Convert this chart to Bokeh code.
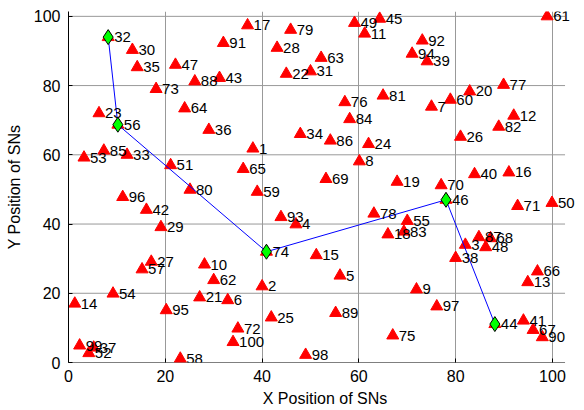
from bokeh.plotting import figure
from bokeh.models import ColumnDataSource, Range1d, FixedTicker, LabelSet
from bokeh.core.properties import value
from bokeh.embed import file_html
from bokeh.resources import INLINE

# Sensor node ids and positions
node_id = list(range(1, 101))
node_x = [38.1, 40.0, 82.0, 47.0, 56.1, 32.9, 75.0, 60.1, 71.9, 28.1,
          61.2, 92.0, 94.9, 1.3, 51.2, 91.0, 37.0, 66.0, 67.9, 82.9,
          27.1, 45.0, 6.3, 62.0, 41.9, 81.0, 17.1, 43.1, 19.1, 13.2,
          50.0, 8.2, 12.1, 47.9, 14.2, 29.0, 5.2, 80.0, 74.1, 83.9,
          94.0, 16.1, 31.2, 88.1, 64.3, 78.0, 22.1, 86.2, 59.1, 99.9,
          21.1, 4.2, 3.2, 9.2, 70.0, 10.2, 15.2, 23.1, 39.0, 78.9,
          98.9, 30.0, 52.2, 24.0, 36.1, 96.9, 96.0, 87.2, 53.2, 77.0,
          92.8, 35.0, 18.1, 40.9, 67.0, 57.1, 89.9, 63.1, 45.9, 25.1,
          65.0, 88.9, 69.3, 58.1, 7.3, 54.1, 84.8, 26.1, 55.2, 97.9,
          32.0, 73.1, 43.9, 71.0, 20.2, 11.2, 76.1, 49.0, 2.3, 34.0]
node_y = [61.8, 22.0, 34.0, 39.9, 25.1, 18.0, 73.9, 58.1, 21.1, 28.3,
          95.0, 71.3, 23.2, 17.0, 31.0, 54.9, 97.4, 37.0, 52.2, 78.3,
          18.8, 83.4, 72.0, 63.1, 13.0, 65.2, 29.1, 90.9, 39.1, 90.3,
          84.1, 94.0, 60.0, 66.0, 85.3, 67.2, 4.3, 30.2, 87.0, 54.4,
          12.1, 44.1, 82.2, 11.1, 99.3, 47.0, 86.0, 33.3, 98.1, 46.1,
          57.0, 2.7, 59.2, 19.9, 40.9, 68.7, 26.9, 1.1, 49.3, 75.9,
          100.0, 23.8, 88.0, 73.4, 55.9, 26.3, 9.4, 35.9, 53.0, 51.2,
          45.2, 9.8, 79.0, 32.0, 7.8, 75.2, 80.2, 43.0, 96.1, 49.9,
          77.1, 68.1, 37.8, 70.3, 61.2, 64.1, 36.2, 81.2, 14.3, 7.3,
          92.3, 93.0, 42.0, 89.2, 15.1, 47.8, 16.2, 2.2, 4.9, 5.9]

# Selected path (cluster heads / route)
path_nodes = [32, 56, 74, 46, 44]

# Axis ticks
x_ticks = [0, 20, 40, 60, 80, 100]
y_ticks = [0, 20, 40, 60, 80, 100]

# Axes box limits
x_lim = [0, 102.6]
y_lim = [0, 101.4]

src = ColumnDataSource(dict(x=node_x, y=node_y, lbl=[str(i) for i in node_id]))
px = [node_x[i - 1] for i in path_nodes]
py = [node_y[i - 1] for i in path_nodes]

FONT = "Liberation Sans"

# frame extended a little on the right so that labels near x=100 are not clipped
p = figure(width=584, height=410, output_backend="svg", toolbar_location=None,
           x_range=Range1d(x_lim[0], 106.0), y_range=Range1d(*y_lim),
           min_border_left=68, min_border_right=3, min_border_top=11,
           min_border_bottom=48)
p.outline_line_color = None
p.background_fill_color = "white"
p.border_fill_color = "white"

for ax, ticks in ((p.xaxis, x_ticks), (p.yaxis, y_ticks)):
    ax.ticker = FixedTicker(ticks=ticks)
    ax.minor_tick_line_color = None
    ax.major_tick_in = 4
    ax.major_tick_out = 0
    ax.axis_line_color = "black"
    ax.major_tick_line_color = "black"
    ax.major_label_text_font = FONT
    ax.major_label_text_font_size = "16px"
    ax.major_label_text_color = "black"
    ax.axis_label_text_font = FONT
    ax.axis_label_text_font_size = "16px"
    ax.axis_label_text_font_style = "normal"
    ax.axis_label_text_color = "black"
p.xaxis.axis_line_color = None

p.xaxis.axis_label = "X Position of SNs"
p.yaxis.axis_label = "Y Position of SNs"
p.xaxis.major_label_standoff = 7
p.xaxis.axis_label_standoff = 5
p.yaxis.major_label_standoff = 8
p.yaxis.axis_label_standoff = 8

p.xgrid.grid_line_color = "#999999"
p.xgrid.ticker = FixedTicker(ticks=x_ticks)
p.ygrid.grid_line_color = None

# horizontal grid lines and bottom axis line limited to the axes box
gy = y_ticks[1:]
p.segment(x0=[x_lim[0]] * len(gy), y0=gy, x1=[x_lim[1]] * len(gy), y1=gy,
          line_color="#999999", line_width=1, level="underlay")
p.segment(x0=[x_lim[0]], y0=[y_lim[0]], x1=[x_lim[1]], y1=[y_lim[0]],
          line_color="black", line_width=1)

p.scatter("x", "y", source=src, marker="triangle", size=12,
          fill_color="#ff0000", line_color="#ff0000")
p.line(px, py, line_color="#0000ff", line_width=1)
p.scatter(px, py, marker="diamond", size=15, fill_color="#00ff00",
          line_color="black", line_width=1)
labels = LabelSet(x="x", y="y", text="lbl", source=src, x_offset=6,
                  text_baseline="middle", text_align="left",
                  text_font=value(FONT), text_font_size=value("15px"),
                  text_color="black")
p.add_layout(labels)

open("out.html", "w").write(file_html(p, INLINE))
